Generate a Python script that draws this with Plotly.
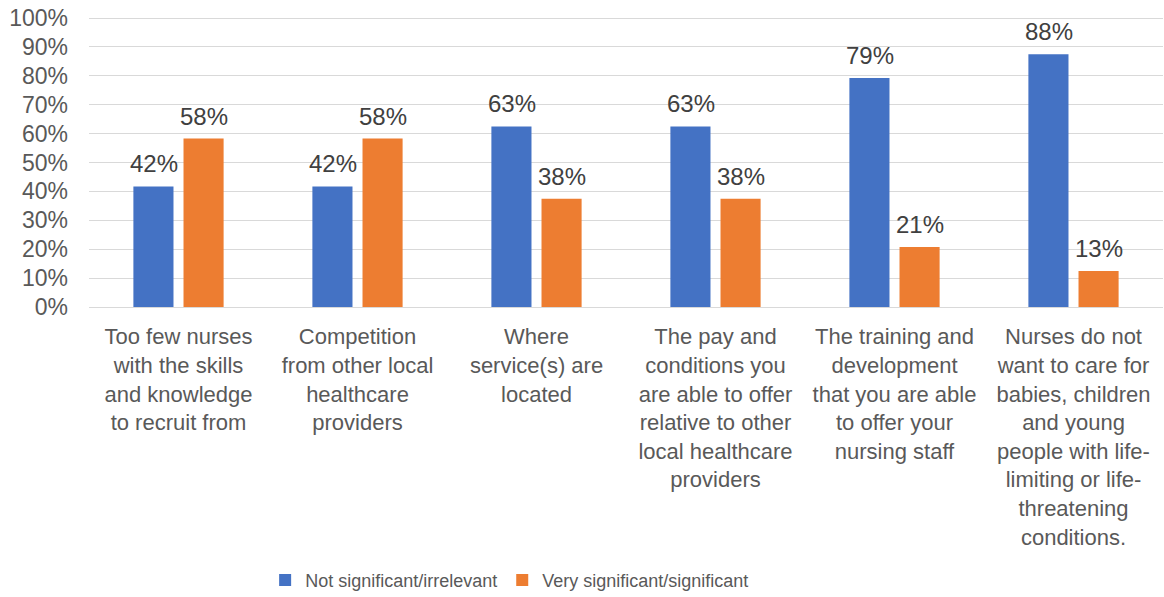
import plotly.graph_objects as go

categories = [
    "Too few nurses<br>with the skills<br>and knowledge<br>to recruit from",
    "Competition<br>from other local<br>healthcare<br>providers",
    "Where<br>service(s) are<br>located",
    "The pay and<br>conditions you<br>are able to offer<br>relative to other<br>local healthcare<br>providers",
    "The training and<br>development<br>that you are able<br>to offer your<br>nursing staff",
    "Nurses do not<br>want to care for<br>babies, children<br>and young<br>people with life-<br>limiting or life-<br>threatening<br>conditions.",
]
not_significant = [41.7, 41.7, 62.5, 62.5, 79.2, 87.5]
very_significant = [58.3, 58.3, 37.5, 37.5, 20.8, 12.5]
series_names = ["Not significant/irrelevant", "Very significant/significant"]
series_colors = ["#4472C4", "#ED7D31"]
y_ticks = list(range(0, 101, 10))
y_tick_labels = [f"{v}%" for v in y_ticks]

FONT = "Liberation Sans, Arial, sans-serif"
TEXT_COLOR = "#595959"

fig = go.Figure()
for name, vals, col in zip(series_names, [not_significant, very_significant], series_colors):
    fig.add_trace(go.Bar(
        name=name, x=categories, y=vals, marker_color=col,
        marker_line_width=0,
    ))

# data labels as annotations
offsets = [-24.5, 25.5]
for vals, dx in zip([not_significant, very_significant], offsets):
    for c, v in zip(categories, vals):
        fig.add_annotation(
            x=c, y=v, xref="x", yref="y", text=f"{int(v + 0.5)}%",
            showarrow=False, xshift=dx, yshift=7, yanchor="bottom",
            font=dict(family=FONT, size=24, color="#404040"),
        )

fig.update_layout(
    width=1164, height=597,
    margin=dict(l=89, r=1, t=17, b=290, autoexpand=False),
    paper_bgcolor="white", plot_bgcolor="white",
    barmode="group", bargap=0.44, bargroupgap=0.2,
    font=dict(family=FONT, size=22, color=TEXT_COLOR),
    showlegend=True,
    legend=dict(orientation="h", x=0.164, xanchor="left", y=-0.942, yanchor="middle",
                font=dict(family=FONT, size=18, color=TEXT_COLOR),
                itemwidth=30, traceorder="normal"),
)
fig.update_xaxes(showline=True, linecolor="#d9d9d9", linewidth=1, ticks="",
                 automargin=False, ticklabelstandoff=10,
                 tickfont=dict(family=FONT, size=22, color=TEXT_COLOR))
fig.update_yaxes(range=[0, 100.35], tickmode="array", tickvals=y_ticks, ticktext=y_tick_labels,
                 showgrid=True, gridcolor="#d9d9d9", gridwidth=1,
                 zeroline=False, showline=False, automargin=False,
                 ticklabelstandoff=20,
                 tickfont=dict(family=FONT, size=23, color=TEXT_COLOR))

fig.write_html("out.html", config={"displayModeBar": False},
               post_script="document.body.style.margin='0';document.body.style.padding='0';")
